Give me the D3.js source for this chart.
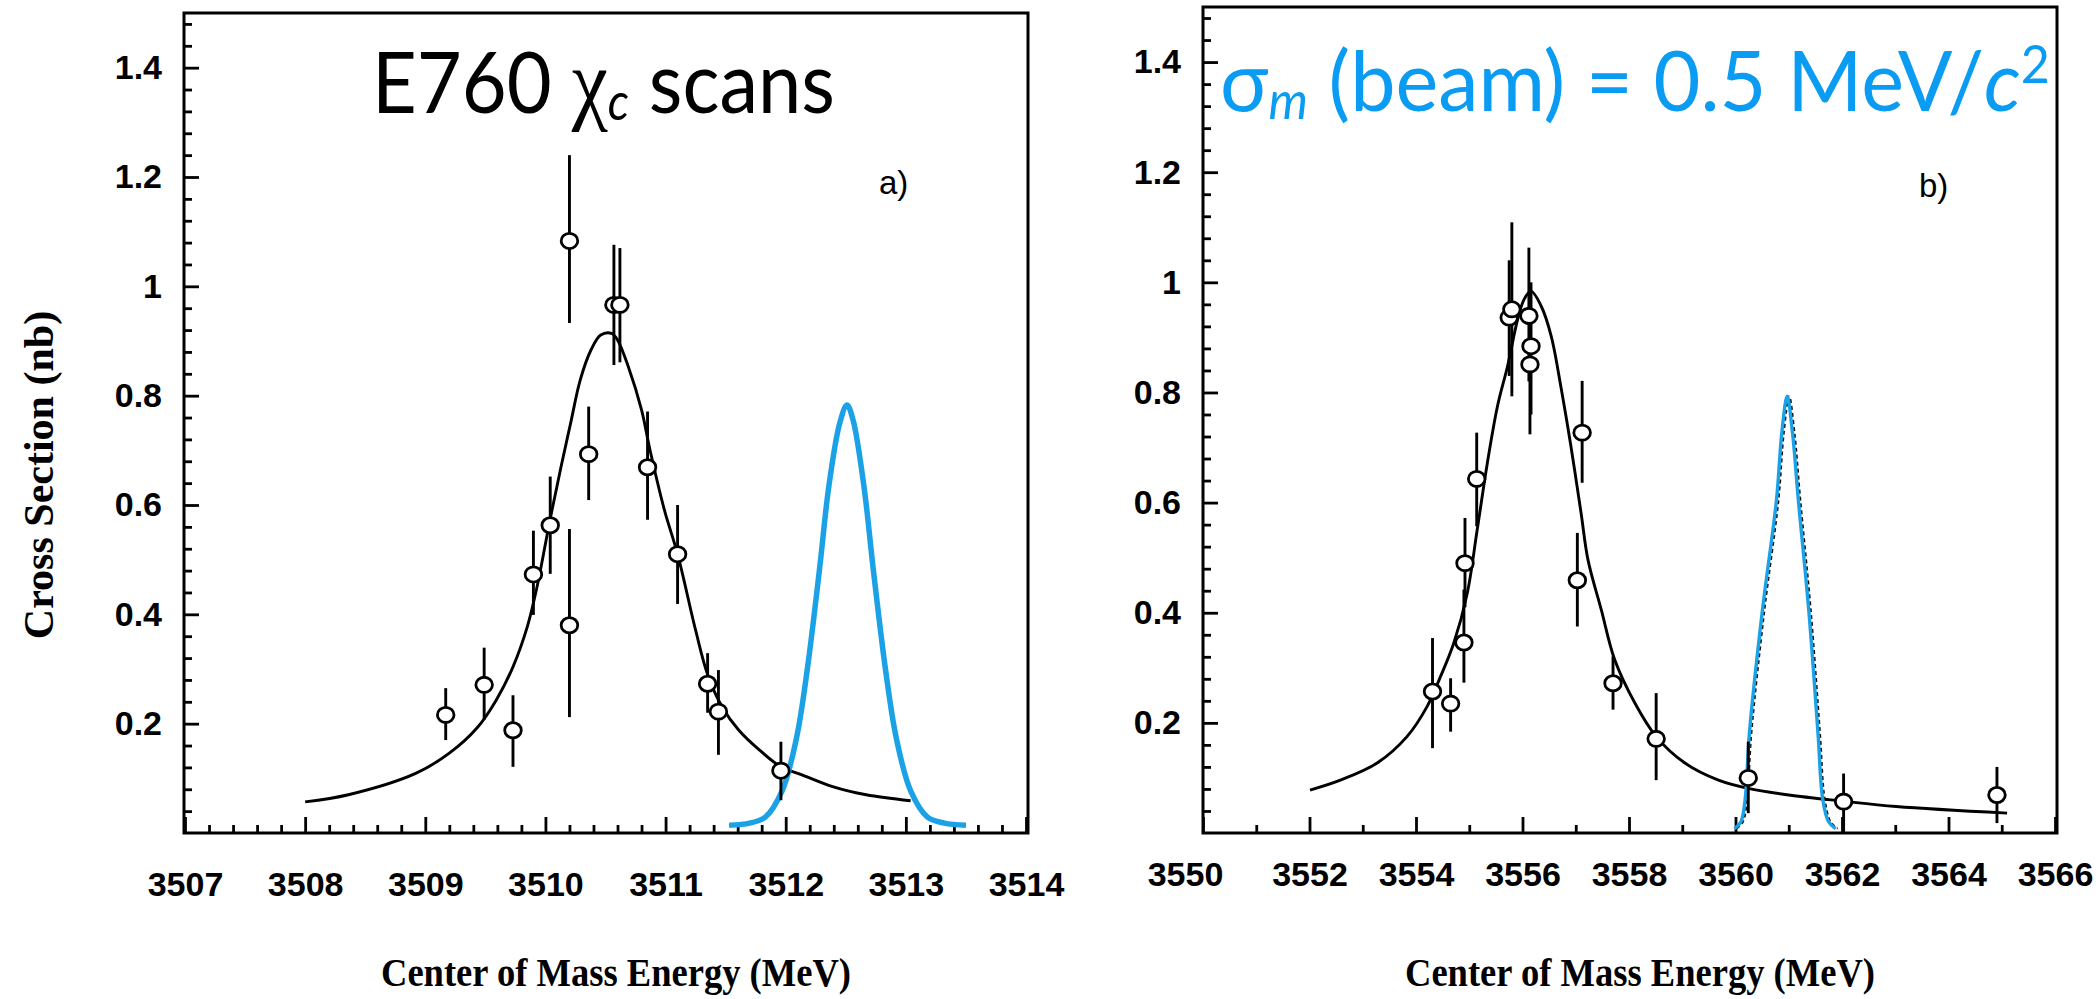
<!DOCTYPE html>
<html>
<head>
<meta charset="utf-8">
<script src="https://cdn.jsdelivr.net/npm/d3@7"></script>
<style>
  html, body { margin: 0; background: #ffffff; }
  svg { display: block; }
  text { white-space: pre; }
</style>
</head>
<body>
<svg id="chart" width="2100" height="999"></svg>
<script>
// ---------- Panel a) : chi_c1 resonance scan ----------
const energyA = [3509.17, 3509.49, 3509.73, 3509.90, 3510.04, 3510.20, 3510.20, 3510.36, 3510.57, 3510.62, 3510.85, 3511.10, 3511.35, 3511.44, 3511.96];
const xsecA   = [0.216, 0.271, 0.188, 0.473, 0.563, 0.380, 1.083, 0.693, 0.966, 0.966, 0.669, 0.510, 0.273, 0.222, 0.114];
const errLoA  = [0.170, 0.207, 0.121, 0.399, 0.474, 0.212, 0.933, 0.609, 0.856, 0.861, 0.573, 0.419, 0.220, 0.143, 0.060];
const errHiA  = [0.265, 0.339, 0.252, 0.553, 0.652, 0.556, 1.240, 0.780, 1.076, 1.070, 0.771, 0.600, 0.329, 0.298, 0.167];

// fitted line shape, panel a)
const fitEnergyA = [3508.00, 3508.36, 3508.92, 3509.20, 3509.43, 3509.59, 3509.73, 3509.85, 3509.93, 3510.04, 3510.13, 3510.21, 3510.29, 3510.38, 3510.46, 3510.55, 3510.60, 3510.69, 3510.80, 3510.87, 3510.99, 3511.10, 3511.25, 3511.35, 3511.47, 3511.61, 3511.78, 3511.96, 3512.14, 3512.39, 3512.67, 3513.04];
const fitXsecA   = [0.057, 0.070, 0.109, 0.146, 0.192, 0.243, 0.304, 0.378, 0.450, 0.575, 0.670, 0.750, 0.829, 0.884, 0.911, 0.914, 0.902, 0.853, 0.774, 0.701, 0.591, 0.510, 0.371, 0.290, 0.231, 0.188, 0.152, 0.121, 0.106, 0.085, 0.070, 0.059];

// beam energy spread profile, panel a)
const beamEnergyA = [3511.53, 3511.70, 3511.83, 3511.97, 3512.09, 3512.18, 3512.28, 3512.36, 3512.45, 3512.51, 3512.56, 3512.65, 3512.73, 3512.83, 3512.92, 3513.04, 3513.18, 3513.32, 3513.50];
const beamXsecA   = [0.014, 0.018, 0.029, 0.077, 0.174, 0.300, 0.480, 0.636, 0.750, 0.783, 0.756, 0.636, 0.480, 0.300, 0.174, 0.077, 0.029, 0.018, 0.014];

// ---------- Panel b) : chi_c2 resonance scan ----------
const energyB = [3554.31, 3554.65, 3554.90, 3554.92, 3555.14, 3555.75, 3555.80, 3556.12, 3556.16, 3556.14, 3557.03, 3557.12, 3557.70, 3558.51, 3560.24, 3562.03, 3564.91];
const xsecB   = [0.257, 0.235, 0.346, 0.490, 0.643, 0.936, 0.951, 0.939, 0.884, 0.851, 0.459, 0.727, 0.272, 0.171, 0.100, 0.057, 0.069];
const errLoB  = [0.154, 0.184, 0.273, 0.410, 0.557, 0.830, 0.793, 0.820, 0.760, 0.724, 0.375, 0.636, 0.224, 0.096, 0.036, 0.002, 0.018];
const errHiB  = [0.354, 0.281, 0.442, 0.572, 0.727, 1.040, 1.109, 1.063, 1.000, 0.970, 0.545, 0.821, 0.321, 0.254, 0.166, 0.108, 0.120];

const fitEnergyB = [3552.01, 3552.58, 3553.27, 3553.83, 3554.21, 3554.46, 3554.71, 3554.96, 3555.15, 3555.34, 3555.53, 3555.72, 3555.91, 3556.03, 3556.16, 3556.35, 3556.54, 3556.72, 3556.91, 3557.10, 3557.23, 3557.48, 3557.73, 3558.11, 3558.51, 3559.05, 3559.68, 3560.24, 3561.00, 3562.00, 3563.02, 3565.10];
const fitXsecB   = [0.078, 0.096, 0.127, 0.175, 0.230, 0.284, 0.345, 0.434, 0.551, 0.672, 0.775, 0.848, 0.933, 0.969, 0.984, 0.957, 0.902, 0.811, 0.702, 0.581, 0.496, 0.405, 0.315, 0.236, 0.175, 0.127, 0.096, 0.081, 0.069, 0.058, 0.048, 0.036];

const beamEnergyB = [3559.98, 3560.10, 3560.18, 3560.26, 3560.50, 3560.77, 3560.87, 3560.97, 3561.07, 3561.18, 3561.38, 3561.55, 3561.64, 3561.75, 3561.88];
const beamXsecB   = [0.008, 0.020, 0.060, 0.180, 0.400, 0.605, 0.727, 0.793, 0.727, 0.605, 0.400, 0.180, 0.060, 0.020, 0.008];

// ---------- Axis ticks and labels ----------
const xTicksA = [3507, 3508, 3509, 3510, 3511, 3512, 3513, 3514];
const xTickLabelsA = ['3507', '3508', '3509', '3510', '3511', '3512', '3513', '3514'];
const xTicksB = [3550, 3552, 3554, 3556, 3558, 3560, 3562, 3564, 3566];
const xTickLabelsB = ['3550', '3552', '3554', '3556', '3558', '3560', '3562', '3564', '3566'];
const yTicks = [0.2, 0.4, 0.6, 0.8, 1.0, 1.2, 1.4];
const yTickLabels = ['0.2', '0.4', '0.6', '0.8', '1', '1.2', '1.4'];

const xTitle = 'Center of Mass Energy (MeV)';
const yTitle = 'Cross Section (nb)';

const BLUE_TEXT = '#0a9bf2';
const BLUE_LINE = '#1ba2e6';
const TICK_FONT = "'Liberation Sans', Arial, Helvetica, sans-serif";
const SERIF_FONT = "'Liberation Serif', 'Times New Roman', serif";

const svg = d3.select('#chart');

function drawPanel(cfg) {
  const f = cfg.frame;
  const g = svg.append('g');
  const x = d3.scaleLinear().domain(cfg.xDomain).range(cfg.xRange);
  const y = d3.scaleLinear().domain([0, 1.5]).range([f.bottom, f.top]);

  const styleAxis = sel => {
    sel.select('.domain').remove();
    sel.selectAll('.tick line').attr('stroke', '#000').attr('stroke-width', 2.8);
    sel.selectAll('.tick text')
      .attr('fill', '#000')
      .style('font-family', TICK_FONT)
      .style('font-weight', 'bold')
      .style('font-size', '34px');
  };

  // y axis: minor ticks every 0.04, labelled majors every 0.2
  const yMinor = d3.range(1, 38).filter(i => i % 5 !== 0).map(i => i * 0.04);
  g.append('g').attr('transform', `translate(${f.left},0)`)
    .call(d3.axisLeft(y).tickValues(yMinor).tickSize(-8).tickFormat(''))
    .call(styleAxis);
  g.append('g').attr('transform', `translate(${f.left},0)`)
    .call(d3.axisLeft(y).tickValues(yTicks).tickSize(-15).tickPadding(22)
      .tickFormat((d, i) => yTickLabels[i]))
    .call(styleAxis);

  // x axis
  g.append('g').attr('transform', `translate(0,${f.bottom})`)
    .call(d3.axisBottom(x).tickValues(cfg.xMinor).tickSize(-8).tickFormat(''))
    .call(styleAxis);
  const xMajor = g.append('g').attr('transform', `translate(0,${f.bottom})`)
    .call(d3.axisBottom(x).tickValues(cfg.xTicks).tickSize(-16).tickPadding(cfg.xPad)
      .tickFormat((d, i) => cfg.xLabels[i]))
    .call(styleAxis);
  if (cfg.firstLabelDx) {
    xMajor.select('.tick text').attr('dx', cfg.firstLabelDx);
  }

  // frame
  g.append('rect')
    .attr('x', f.left).attr('y', f.top)
    .attr('width', f.right - f.left).attr('height', f.bottom - f.top)
    .attr('fill', 'none').attr('stroke', '#000').attr('stroke-width', 3);

  const line = d3.line()
    .x(d => x(d[0])).y(d => y(d[1]))
    .curve(d3.curveCatmullRom.alpha(0.5));

  // fitted resonance curve
  g.append('path')
    .datum(d3.zip(cfg.fitE, cfg.fitX))
    .attr('d', line)
    .attr('fill', 'none').attr('stroke', '#000').attr('stroke-width', 2.9);

  // beam profile: dashed original trace under the coloured one
  const beam = d3.zip(cfg.beamE, cfg.beamX);
  g.append('path')
    .datum(beam)
    .attr('d', line)
    .attr('transform', `translate(${cfg.dashShift},0)`)
    .attr('fill', 'none').attr('stroke', '#111')
    .attr('stroke-width', 2).attr('stroke-dasharray', '4,3');
  g.append('path')
    .datum(beam)
    .attr('d', line)
    .attr('fill', 'none').attr('stroke', BLUE_LINE)
    .attr('stroke-width', cfg.beamWidth).attr('stroke-linejoin', 'round');

  // data points with error bars
  const pts = cfg.E.map((e, i) => ({ e, v: cfg.X[i], lo: cfg.lo[i], hi: cfg.hi[i] }));
  g.append('g').selectAll('line')
    .data(pts).join('line')
    .attr('x1', d => x(d.e)).attr('x2', d => x(d.e))
    .attr('y1', d => y(d.lo)).attr('y2', d => y(d.hi))
    .attr('stroke', '#000').attr('stroke-width', 2.9);
  g.append('g').selectAll('ellipse')
    .data(pts).join('ellipse')
    .attr('cx', d => x(d.e)).attr('cy', d => y(d.v))
    .attr('rx', 8.3).attr('ry', 7.6)
    .attr('fill', '#fff').attr('stroke', '#000').attr('stroke-width', 2.8);

  // panel letter
  g.append('text')
    .attr('x', cfg.letterPos[0]).attr('y', cfg.letterPos[1])
    .style('font-family', TICK_FONT).style('font-size', '33px')
    .attr('fill', '#000')
    .text(cfg.letter);

  // x title
  g.append('text')
    .attr('x', cfg.xTitleX).attr('y', 986)
    .attr('text-anchor', 'middle')
    .attr('textLength', 470).attr('lengthAdjust', 'spacingAndGlyphs')
    .style('font-family', SERIF_FONT).style('font-weight', 'bold').style('font-size', '40px')
    .attr('fill', '#000')
    .text(xTitle);

  return { x, y };
}

// composite annotation text with sub/superscripts; squeezed horizontally to a target width
function richText(x0, baseline, fontSize, targetWidth, parts, fill) {
  const t = svg.append('text')
    .attr('x', 0).attr('y', 0)
    .attr('fill', fill)
    .style('font-family', "Lato, 'Noto Sans', 'DejaVu Sans', sans-serif");
  let shift = 0;
  parts.forEach(p => {
    const s = t.append('tspan').text(p.text)
      .style('font-size', (fontSize * (p.scale || 1)) + 'px');
    if (p.italic) s.style('font-style', 'italic');
    if (p.family) s.style('font-family', p.family);
    const want = (p.shift || 0) * fontSize;
    s.attr('dy', want - shift);
    shift = want;
  });
  const len = t.node().getComputedTextLength();
  t.attr('transform', `translate(${x0},${baseline}) scale(${targetWidth / len},1)`);
}

drawPanel({
  frame: { left: 184, top: 13, right: 1028, bottom: 833 },
  xDomain: [3507, 3514], xRange: [185, 1026],
  xTicks: xTicksA, xLabels: xTickLabelsA,
  xMinor: d3.range(0, 36).filter(i => i % 5 !== 0).map(i => 3507 + i * 0.2),
  xPad: 39,
  E: energyA, X: xsecA, lo: errLoA, hi: errHiA,
  fitE: fitEnergyA, fitX: fitXsecA,
  beamE: beamEnergyA, beamX: beamXsecA, beamWidth: 5.5, dashShift: 0,
  letter: 'a)', letterPos: [879, 194],
  xTitleX: 616
});

drawPanel({
  frame: { left: 1203, top: 7, right: 2057, bottom: 833 },
  xDomain: [3550, 3566], xRange: [1203, 2055],
  xTicks: xTicksB, xLabels: xTickLabelsB,
  xMinor: d3.range(3551, 3566, 2),
  xPad: 29,
  firstLabelDx: -18,
  E: energyB, X: xsecB, lo: errLoB, hi: errHiB,
  fitE: fitEnergyB, fitX: fitXsecB,
  beamE: beamEnergyB, beamX: beamXsecB, beamWidth: 3.4, dashShift: 2,
  letter: 'b)', letterPos: [1919, 197],
  xTitleX: 1640
});

// shared y title on the left
svg.append('text')
  .attr('transform', 'translate(53,475) rotate(-90)')
  .attr('text-anchor', 'middle')
  .style('font-family', SERIF_FONT).style('font-weight', 'bold').style('font-size', '42px')
  .attr('fill', '#000')
  .text(yTitle);

// headline annotations
richText(372, 113, 86, 463, [
  { text: 'E760 ' },
  { text: 'χ', family: SERIF_FONT, scale: 1.05 },
  { text: 'c', italic: true, scale: 0.6, shift: 0.08 },
  { text: ' scans' }
], '#000');

richText(1220, 111, 84, 830, [
  { text: 'σ' },
  { text: 'm', italic: true, scale: 0.62, shift: 0.1 },
  { text: ' (beam) = 0.5 MeV/' },
  { text: 'c', italic: true },
  { text: '2', scale: 0.62, shift: -0.33 }
], BLUE_TEXT);
</script>
</body>
</html>
